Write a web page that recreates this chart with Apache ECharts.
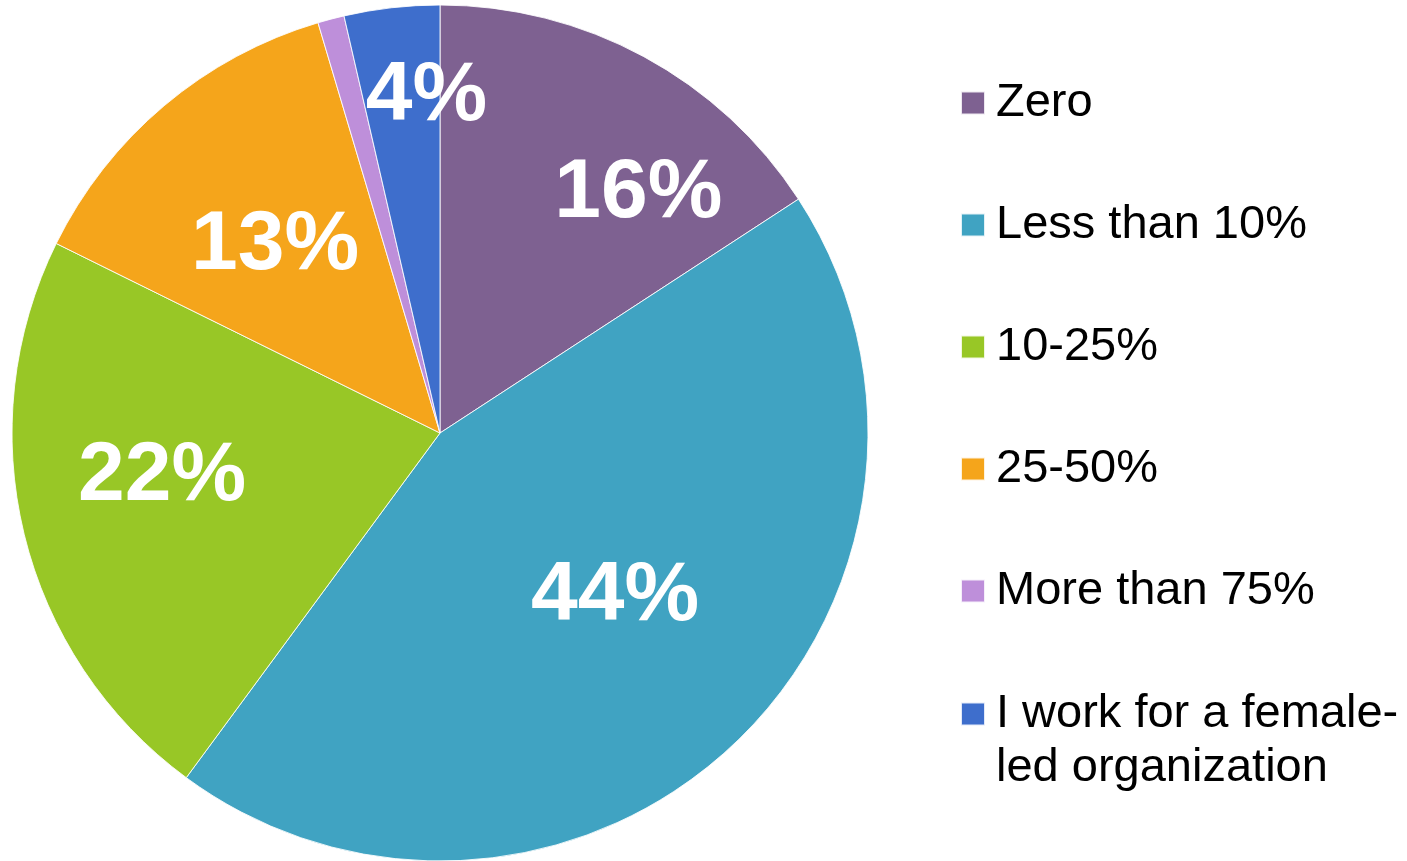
<!DOCTYPE html>
<html>
<head>
<meta charset="utf-8">
<title>Female leadership share</title>
<script src="https://cdn.jsdelivr.net/npm/echarts@6/dist/echarts.min.js"></script>
<style>
  html, body {
    margin: 0;
    padding: 0;
    background: #fff;
  }
  #chart {
    width: 1407px;
    height: 861px;
  }
</style>
</head>
<body>
<div id="chart"></div>
<script>
// Data
const categories = [
  'Zero',
  'Less than 10%',
  '10-25%',
  '25-50%',
  'More than 75%',
  'I work for a female-led organization'
]
const shares = [15.8, 44.3, 22.2, 13.1, 1.0, 3.6]

// Styles
const colors = ['#7E6191', '#40A3C2', '#98C726', '#F5A51B', '#BE8FDA', '#3E6ECC']
// nudge of each value label away from the default mid-radius spot (px)
const labelOffsets = [[95, -48], [26, 6], [-67, -7], [-25, -21], [0, 0], [11, -121]]
const FONT = '"Liberation Sans", Arial, Helvetica, sans-serif'
const CENTER = [440, 433]
const RADIUS = 428

const pieData = categories.map((name, i) => ({
  name: name,
  value: shares[i],
  itemStyle: { color: colors[i] }
}))

const legendText = {
  color: '#000',
  fontFamily: FONT,
  fontSize: 47,
  lineHeight: 54,
  padding: [0, 0, 0, 6]
}

const chart = echarts.init(document.getElementById('chart'), null, { renderer: 'canvas' })

chart.setOption({
  animation: false,
  backgroundColor: '#fff',
  legend: [
    {
      // first five entries
      orient: 'vertical',
      left: 960,
      top: 76,
      padding: 0,
      itemWidth: 24,
      itemHeight: 23,
      itemGap: 68,
      icon: 'rect',
      data: categories.slice(0, 5),
      textStyle: legendText,
      selectedMode: false
    },
    {
      // last entry wraps over two lines, box aligned with the first line
      orient: 'vertical',
      left: 960,
      top: 633,
      padding: 0,
      itemWidth: 24,
      itemHeight: 23,
      icon: 'rect',
      data: categories.slice(5),
      formatter: () => '\nI work for a female-\nled organization',
      textStyle: legendText,
      selectedMode: false
    }
  ],
  series: [
    {
      name: 'share',
      type: 'pie',
      center: CENTER,
      radius: [0, RADIUS],
      startAngle: 90,
      clockwise: true,
      silent: true,
      itemStyle: {
        borderColor: 'rgba(255,255,255,0.85)',
        borderWidth: 1
      },
      label: {
        show: true,
        position: 'inside',
        color: '#fff',
        fontFamily: FONT,
        fontWeight: 'bold',
        fontSize: 84,
        formatter: (p) => (p.percent < 2 ? '' : Math.round(p.percent) + '%')
      },
      labelLine: { show: false },
      labelLayout: (params) => {
        const o = labelOffsets[params.dataIndex]
        return { dx: o[0], dy: o[1] }
      },
      data: pieData
    }
  ]
})

window.addEventListener('resize', () => chart.resize())
</script>
</body>
</html>
